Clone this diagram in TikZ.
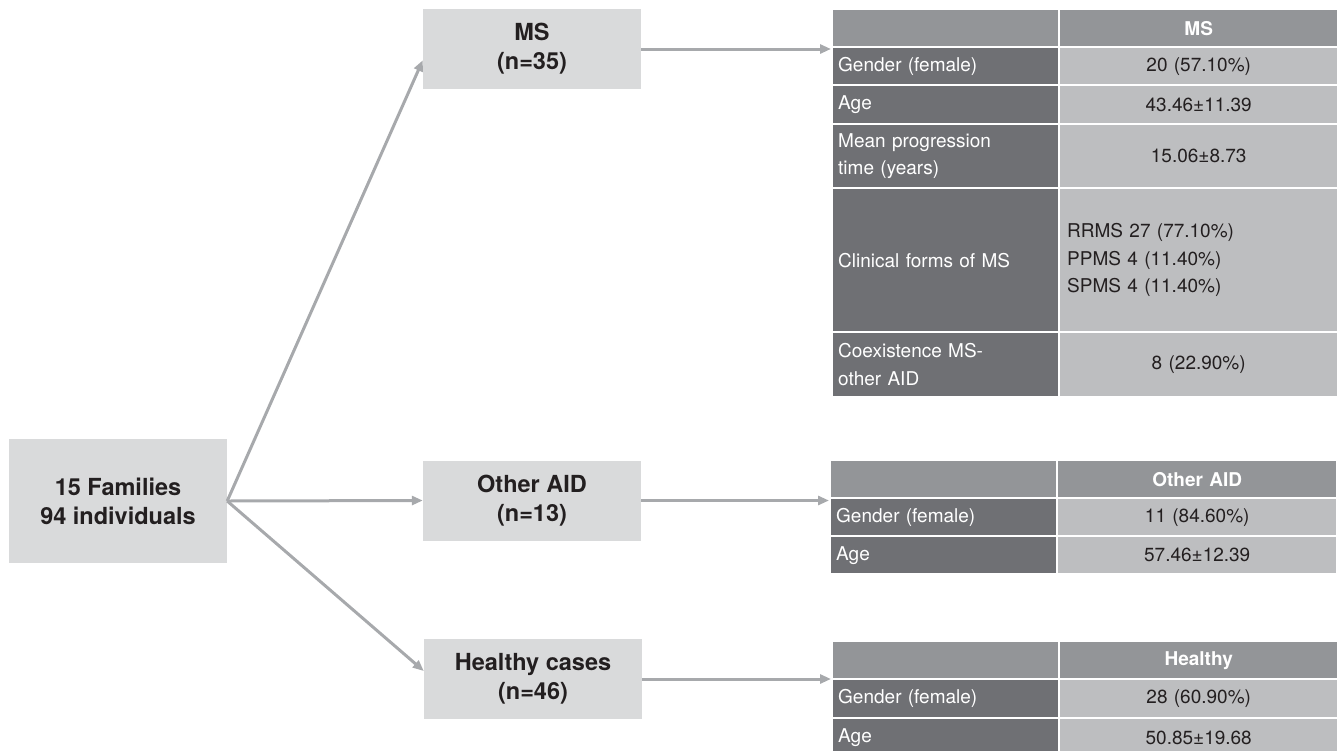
\documentclass[tikz,border=0pt]{standalone}
\usepackage{fontspec}
\setmainfont{TeX Gyre Heros}
\usetikzlibrary{arrows.meta}
\definecolor{boxg}{HTML}{D9DADB}
\definecolor{hdg}{HTML}{939598}
\definecolor{dkg}{HTML}{6F7074}
\definecolor{ltg}{HTML}{BDBEC0}
\definecolor{arrg}{HTML}{A7A9AC}
\definecolor{txt}{HTML}{231F20}
\begin{document}
\begin{tikzpicture}[x=1pt,y=-1pt,
 box/.style={fill=boxg, minimum width=218pt, minimum height=80pt, inner sep=0pt, align=center, text=txt, font=\fontsize{23.5}{29}\selectfont\bfseries},
 cell/.style={anchor=north west, inner ysep=0pt, inner xsep=5pt, font=\fontsize{19}{27.5}\selectfont},
 hd/.style={cell, fill=hdg, text=white, font=\fontsize{19}{27.5}\selectfont\bfseries, align=center},
 lc/.style={cell, fill=dkg, text=white, align=left, text width=215pt},
 rc/.style={cell, fill=ltg, text=txt, align=center, text width=267pt},
 arr/.style={draw=arrg, line width=3pt, -{Triangle[length=11pt,width=9pt]}}
]
\useasboundingbox (0,0) rectangle (1337,750);

% boxes
\node[box, minimum height=124pt] (fam) at (118,501) {15 Families\\94 individuals};
\node[box] (ms) at (532,49) {MS\\(n=35)};
\node[box] (aid) at (532,500.5) {Other AID\\(n=13)};
\node[box] (hl) at (533,679) {Healthy cases\\(n=46)};

% MS table
\node[hd, text width=215pt, minimum height=36pt] (msh0) at (833,10) {};
\node[hd, text width=267pt, minimum height=36pt] (msh1) at (1060,10) {MS};
\node[lc, minimum height=36pt] (msg) at (833,48) {Gender (female)};
\node[rc, minimum height=36pt] (msg1) at (1060,48) {20 (57.10\%)};
\node[lc, minimum height=37pt] (msa) at (833,86) {Age};
\node[rc, minimum height=37pt] (msa1) at (1060,86) {43.46±11.39};
\node[lc, minimum height=62pt] (msm) at (833,125) {Mean progression\\time (years)};
\node[rc, minimum height=62pt] (msm1) at (1060,125) {15.06±8.73};
\node[lc, minimum height=142pt] (msc) at (833,189) {Clinical forms of MS};
\node[rc, align=left, text width=263pt, inner xsep=7pt, minimum height=142pt] (msc1) at (1060,189) {RRMS 27 (77.10\%)\\PPMS 4 (11.40\%)\\SPMS 4 (11.40\%)};
\node[lc, minimum height=63pt] (msx) at (833,333) {Coexistence MS-\\other AID};
\node[rc, minimum height=63pt] (msx1) at (1060,333) {8 (22.90\%)};

% Other AID table
\node[hd, text width=215pt, minimum height=36pt] (aidh0) at (831,461) {};
\node[hd, text width=268pt, minimum height=36pt] (aidh1) at (1058,461) {Other AID};
\node[lc, minimum height=36pt] (aidg) at (831,499) {Gender (female)};
\node[rc, text width=268pt, minimum height=36pt] (aidg1) at (1058,499) {11 (84.60\%)};
\node[lc, minimum height=36pt] (aida) at (831,537) {Age};
\node[rc, text width=268pt, minimum height=36pt] (aida1) at (1058,537) {57.46±12.39};

% Healthy table
\node[hd, text width=215pt, minimum height=36pt] (hlh0) at (833,642) {};
\node[hd, text width=267pt, minimum height=36pt] (hlh1) at (1060,642) {Healthy};
\node[lc, minimum height=37pt] (hlg) at (833,680) {Gender (female)};
\node[rc, minimum height=37pt] (hlg1) at (1060,680) {28 (60.90\%)};
\node[lc, minimum height=37pt] (hla) at (833,719) {Age};
\node[rc, minimum height=37pt] (hla1) at (1060,719) {50.85±19.68};

% connectors
\draw[arr] (fam.east) -- ([yshift=29pt]ms.south west);
\draw[arr] (fam.east) -- (aid.west);
\draw[arr] (fam.east) -- ([yshift=8pt]hl.west);
\draw[arr, shorten >=2pt] (ms.east) -- (ms.east -| msg.west);
\draw[arr, shorten >=2pt] (aid.east) -- (aid.east -| aidg.west);
\draw[arr, shorten >=2pt] (hl.east) -- (hl.east -| hlg.west);
\end{tikzpicture}
\end{document}
